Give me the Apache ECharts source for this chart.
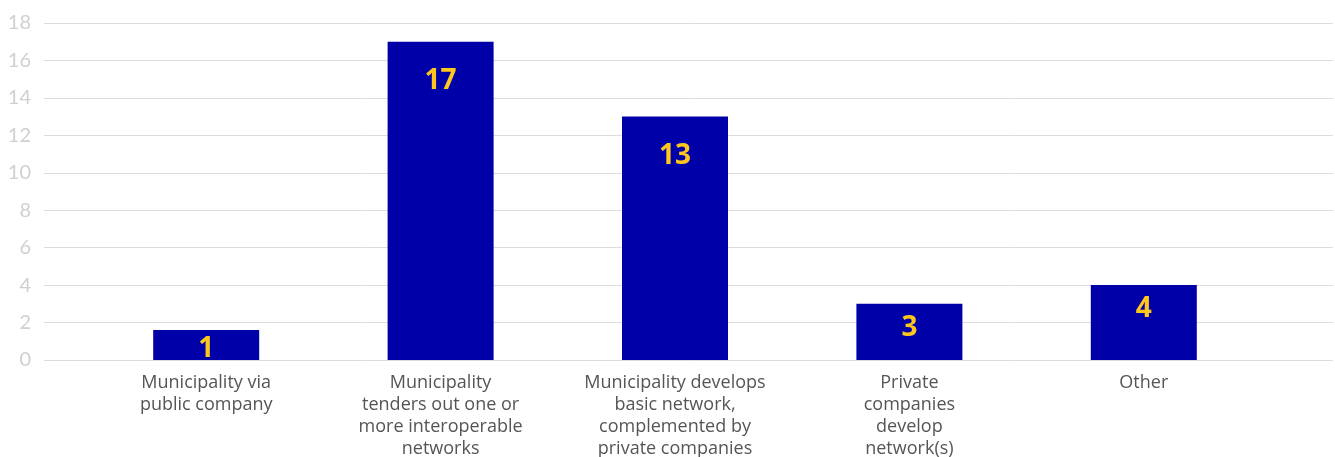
<!DOCTYPE html>
<html>
<head>
<meta charset="utf-8">
<script src="https://cdn.jsdelivr.net/npm/echarts@6/dist/echarts.min.js"></script>
<style>
html,body{margin:0;padding:0;background:#fff;}
#main{width:1335px;height:457px;}
</style>
</head>
<body>
<div id="main"></div>
<script>
// categories and counts
var categories = [
	"Municipality via\npublic company",
	"Municipality\ntenders out one or\nmore interoperable\nnetworks",
	"Municipality develops\nbasic network,\ncomplemented by\nprivate companies",
	"Private\ncompanies\ndevelop\nnetwork(s)",
	"Other"
];
var counts = [1, 17, 13, 3, 4];
var yTicks = [0, 2, 4, 6, 8, 10, 12, 14, 16, 18];

var chart = echarts.init(document.getElementById("main"));

var barData = counts.map(function(v){
	return {
		value: v,
		label: { distance: v > 10 ? 25 : (v > 2 ? 10 : 5) }
	};
});

var option = {
	animation: false,
	textStyle: { fontFamily: "Lato" },
	grid: [
		{ left: 44, right: 2, top: 23, bottom: 97, outerBoundsMode: "none" },   // gridlines, full width
		{ left: 89, right: 74, top: 23, bottom: 97, outerBoundsMode: "none" }   // bars
	],
	xAxis: [
		{ gridIndex: 0, type: "value", show: false, min: 0, max: 1 },
		{
			gridIndex: 1,
			type: "category",
			data: categories,
			axisLine: { show: false },
			axisTick: { show: false },
			axisLabel: {
				color: "#555",
				fontFamily: "Open Sans",
				fontSize: 18,
				lineHeight: 22,
				margin: 12,
				interval: 0
			}
		}
	],
	yAxis: [
		{
			gridIndex: 0,
			type: "value",
			min: yTicks[0],
			max: yTicks[yTicks.length - 1],
			interval: 2,
			axisLine: { show: false },
			axisTick: { show: false },
			splitLine: { lineStyle: { color: "#dcdcdc", width: 1 } },
			axisLabel: { color: "#d0d0d0", fontSize: 20, margin: 13 }
		},
		{
			gridIndex: 1,
			type: "value",
			min: yTicks[0],
			max: yTicks[yTicks.length - 1],
			show: false
		}
	],
	series: [{
		type: "bar",
		xAxisIndex: 1,
		yAxisIndex: 1,
		data: barData,
		barWidth: 106,
		barMinHeight: 30,
		itemStyle: { color: "#0000A8" },
		label: {
			show: true,
			position: "insideTop",
			color: "#FFC61E",
			fontFamily: "Open Sans",
			fontSize: 28,
			fontWeight: "bold"
		}
	}]
};

chart.setOption(option);
</script>
</body>
</html>
